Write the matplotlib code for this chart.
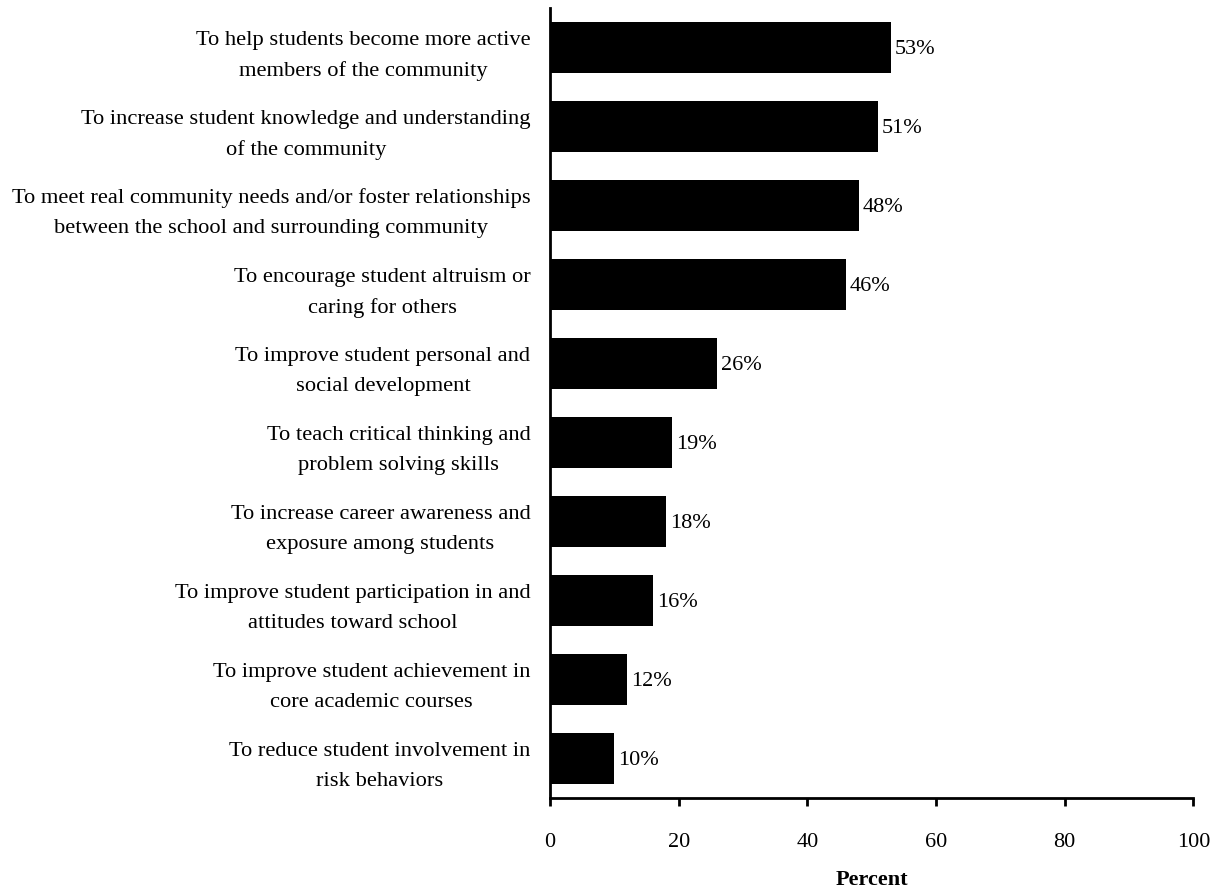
import matplotlib.pyplot as plt

plt.rcParams['font.family'] = ['Liberation Serif', 'DejaVu Serif']

labels = [
    'To help students become more active\nmembers of the community',
    'To increase student knowledge and understanding\nof the community',
    'To meet real community needs and/or foster relationships\nbetween the school and surrounding community',
    'To encourage student altruism or\ncaring for others',
    'To improve student personal and\nsocial development',
    'To teach critical thinking and\nproblem solving skills',
    'To increase career awareness and\nexposure among students',
    'To improve student participation in and\nattitudes toward school',
    'To improve student achievement in\ncore academic courses',
    'To reduce student involvement in\nrisk behaviors',
]
values = [53, 51, 48, 46, 26, 19, 18, 16, 12, 10]

fig = plt.figure(figsize=(12.14, 8.92), dpi=100)
ax = fig.add_axes([0.453, 0.1054, 0.53, 0.8856])

pos = list(range(len(values)))[::-1]
ax.barh(pos, values, height=0.64, color='black')
for p, v in zip(pos, values):
    ax.text(v + 0.6, p - 0.03, f'{v}%', va='center', ha='left', fontsize=16)

ax.set_yticks(pos)
ax.set_yticklabels(labels, fontsize=16.2, multialignment='center', linespacing=1.78)
ax.tick_params(axis='y', length=0, pad=14)
ax.set_xlim(0, 100)
ax.set_ylim(-0.5, 9.5)
ax.set_xticks([0, 20, 40, 60, 80, 100])
ax.tick_params(axis='x', direction='out', length=6, width=2, pad=19, labelsize=16)
for s in ['top', 'right']:
    ax.spines[s].set_visible(False)
for s in ['left', 'bottom']:
    ax.spines[s].set_linewidth(2)
ax.set_xlabel('Percent', fontsize=16, fontweight='bold', labelpad=13)

fig.savefig('out.png', dpi=100)
